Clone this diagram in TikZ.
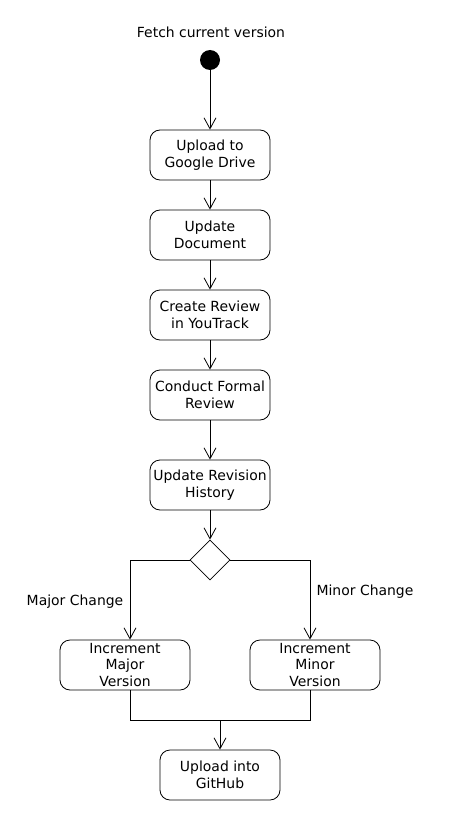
\documentclass[tikz,border=0pt]{standalone}
\usepackage{fontspec}
\setmainfont{DejaVu Sans}
\usetikzlibrary{arrows.meta,shapes.geometric}
\begin{document}
\begin{tikzpicture}[x=1bp,y=-1bp,
  every node/.style={font=\fontsize{14}{16.8}\selectfont},
  act/.style={draw,rounded corners=10bp,line width=0.8bp,minimum width=120bp,minimum height=50bp,inner sep=0pt,align=center},
  wideact/.style={act,minimum width=130bp},
  flow/.style={line width=0.8bp,-{Straight Barb[length=11bp,width=12bp,line width=0.8bp]}},
  line/.style={line width=0.8bp}]
\useasboundingbox (0,0) rectangle (450,820);
\node (title) at (211,32) {Fetch current version};
\node[circle,fill=black,minimum size=20bp,inner sep=0pt] (start) at (210,60) {};
\node[act] (b1) at (210,155) {Upload to\\Google Drive};
\node[act] (b2) at (210,235) {Update\\Document};
\node[act] (b3) at (210,315) {Create Review\\in YouTrack};
\node[act] (b4) at (210,395) {Conduct Formal\\Review};
\node[act] (b5) at (210,485) {Update Revision\\History};
\node[diamond,draw,line width=0.8bp,minimum width=40bp,minimum height=40bp,inner sep=0pt] (dec) at (210,560) {};
\node[wideact] (maj) at (125,665) {Increment\\Major\\Version};
\node[wideact] (min) at (315,665) {Increment\\Minor\\Version};
\node[act] (gh) at (220,775) {Upload into\\GitHub};
\node (lmaj) at (75,602) {Major Change};
\node (lmin) at (365,592) {Minor Change};
\coordinate (jl) at (130,720);
\coordinate (jr) at (310,720);
\coordinate (jm) at (220,720);
\draw[flow] (start) -- (b1);
\draw[flow] (b1) -- (b2);
\draw[flow] (b2) -- (b3);
\draw[flow] (b3) -- (b4);
\draw[flow] (b4) -- (b5);
\draw[flow] (b5) -- (dec);
\draw[flow] (dec.west) -| (maj.north -| jl);
\draw[flow] (dec.east) -| (min.north -| jr);
\draw[line] (maj.south -| jl) -- (jl) -- (jr) -- (min.south -| jr);
\draw[flow] (jm) -- (gh);
\end{tikzpicture}
\end{document}
